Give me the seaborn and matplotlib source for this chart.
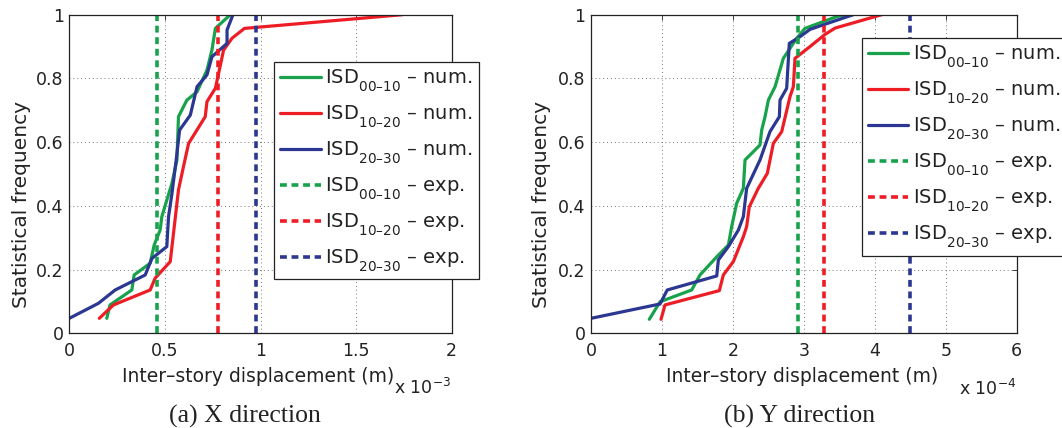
import numpy as np
import pandas as pd
import matplotlib
matplotlib.use("Agg")
import matplotlib.pyplot as plt
from matplotlib.lines import Line2D
import seaborn as sns

# deeper subscripts, as in the reference legend
try:
    import matplotlib._mathtext as _mt
    for _cls in (_mt.FontConstantsBase, _mt.DejaVuSansFontConstants):
        _cls.sub1 = 0.75
except Exception:
    pass

# ---------------- data ----------------
# Panel (a) X direction: displacement in units of 1e-3 m
x_a_00_10 = [0.196, 0.213, 0.327, 0.339, 0.423, 0.444, 0.475, 0.484, 0.510, 0.537,
             0.563, 0.571, 0.615, 0.668, 0.720, 0.746, 0.764, 0.842]
f_a_00_10 = [0.047, 0.089, 0.136, 0.183, 0.220, 0.277, 0.324, 0.366, 0.418, 0.471,
             0.544, 0.680, 0.732, 0.758, 0.826, 0.889, 0.957, 1.000]
x_a_10_20 = [0.157, 0.231, 0.423, 0.449, 0.528, 0.545, 0.571, 0.597, 0.624, 0.711,
             0.720, 0.764, 0.781, 0.807, 0.851, 0.916, 1.742]
f_a_10_20 = [0.047, 0.089, 0.136, 0.173, 0.225, 0.314, 0.450, 0.523, 0.596, 0.680,
             0.727, 0.769, 0.816, 0.889, 0.926, 0.957, 1.000]
x_a_20_30 = [0.000, 0.152, 0.240, 0.397, 0.432, 0.510, 0.519, 0.537, 0.559, 0.577,
             0.633, 0.668, 0.720, 0.746, 0.825, 0.825, 0.856]
f_a_20_30 = [0.047, 0.094, 0.136, 0.183, 0.235, 0.272, 0.366, 0.439, 0.544, 0.638,
             0.685, 0.774, 0.811, 0.868, 0.910, 0.952, 1.000]
exp_a = [0.461, 0.776, 0.978]

# Panel (b) Y direction: displacement in units of 1e-4 m
x_b_00_10 = [0.822, 0.973, 1.419, 1.536, 1.772, 1.936, 1.983, 2.053, 2.147, 2.171,
             2.382, 2.406, 2.453, 2.500, 2.594, 2.711, 2.899, 3.016, 3.463, 3.580]
f_b_00_10 = [0.044, 0.099, 0.136, 0.183, 0.240, 0.277, 0.335, 0.408, 0.455, 0.544,
             0.591, 0.638, 0.680, 0.732, 0.774, 0.863, 0.926, 0.957, 0.994, 1.000]
x_b_10_20 = [0.987, 1.043, 1.809, 1.865, 2.006, 2.147, 2.194, 2.231, 2.358, 2.485,
             2.570, 2.688, 2.805, 2.852, 2.875, 3.087, 3.298, 3.440, 4.097]
f_b_10_20 = [0.044, 0.089, 0.134, 0.183, 0.225, 0.303, 0.335, 0.397, 0.455, 0.502,
             0.596, 0.633, 0.743, 0.774, 0.863, 0.900, 0.938, 0.958, 1.000]
x_b_20_30 = [0.000, 0.973, 1.075, 1.772, 1.795, 1.936, 2.077, 2.147, 2.194, 2.382,
             2.523, 2.655, 2.664, 2.758, 2.795, 2.946, 3.087, 3.509, 3.697]
f_b_20_30 = [0.047, 0.092, 0.136, 0.180, 0.230, 0.272, 0.324, 0.366, 0.455, 0.544,
             0.633, 0.680, 0.732, 0.769, 0.910, 0.931, 0.954, 0.986, 1.000]
exp_b = [2.917, 3.284, 4.490]

series = ["00–10", "10–20", "20–30"]
colors = ["#17a24b", "#ee1d25", "#2c3792"]

xticks_a = [0, 0.5, 1, 1.5, 2]
xticklabels_a = ["0", "0.5", "1", "1.5", "2"]
xticks_b = [0, 1, 2, 3, 4, 5, 6]
xticklabels_b = ["0", "1", "2", "3", "4", "5", "6"]
yticks = [0, 0.2, 0.4, 0.6, 0.8, 1.0]
yticklabels = ["0", "0.2", "0.4", "0.6", "0.8", "1"]

# ---------------- style ----------------
sns.set_style("white")
plt.rcParams["font.family"] = ["DejaVu Sans"]
plt.rcParams["mathtext.fontset"] = "dejavusans"

W, H = 1062, 428
fig = plt.figure(figsize=(W / 100, H / 100), dpi=100)

def px_axes(x0, y0, x1, y1):
    return fig.add_axes([x0 / W, 1 - y1 / H, (x1 - x0) / W, (y1 - y0) / H])

ax_a = px_axes(69.3, 14.7, 451.7, 333.3)
ax_b = px_axes(591.0, 14.7, 1016.7, 333.3)

def make_df(xs, fs):
    rows = []
    for name, x, f in zip(series, xs, fs):
        for xi, fi in zip(x, f):
            rows.append((name, xi, fi))
    return pd.DataFrame(rows, columns=["series", "disp", "freq"])

df_a = make_df([x_a_00_10, x_a_10_20, x_a_20_30], [f_a_00_10, f_a_10_20, f_a_20_30])
df_b = make_df([x_b_00_10, x_b_10_20, x_b_20_30], [f_b_00_10, f_b_10_20, f_b_20_30])

LW = 2.3
DASH = (1.9, 1.3)
LW_D = 2.6

def draw(ax, df, exps, xticks, xticklabels, xlim, xlab_x, offset_txt, offset_xy,
         leg_anchor):
    sns.lineplot(data=df, x="disp", y="freq", hue="series", palette=colors,
                 hue_order=series, sort=False, estimator=None, lw=LW,
                 legend=False, ax=ax)
    for v, c in zip(exps, colors):
        ax.axvline(v, color=c, lw=LW_D, dashes=DASH)
    ax.set_xlim(*xlim)
    ax.set_ylim(0, 1)
    ax.set_xticks(xticks)
    ax.set_xticklabels(xticklabels)
    ax.set_yticks(yticks)
    ax.set_yticklabels(yticklabels)
    ax.tick_params(direction="in", length=3.5, width=0.6, top=True, right=True,
                   labelsize=12.5, colors="#222222")
    ax.tick_params(axis="x", pad=6)
    ax.tick_params(axis="y", pad=4)
    ax.grid(True, ls=(0, (1, 3)), color="#777777", lw=0.7)
    for s in ax.spines.values():
        s.set_color("#222222")
        s.set_linewidth(0.9)
        s.set_visible(True)
    ax.set_xlabel("Inter–story displacement (m)", fontsize=13.5, color="#222222")
    ax.xaxis.set_label_coords(xlab_x, -0.136)
    ax.xaxis.label.set_va("center")
    ax.set_ylabel("Statistical frequency", fontsize=14.5, color="#222222")
    ax.yaxis.label.set_va("center")

    handles, labels = [], []
    for s, c in zip(series, colors):
        handles.append(Line2D([], [], color=c, lw=LW))
        labels.append(r"ISD$_{\mathregular{" + s + r"}}$ – num.")
    for s, c in zip(series, colors):
        handles.append(Line2D([], [], color=c, lw=LW_D, dashes=DASH))
        labels.append(r"ISD$_{\mathregular{" + s + r"}}$ – exp.")
    leg = ax.legend(handles, labels, loc="upper left", bbox_to_anchor=leg_anchor,
                    borderaxespad=0, fontsize=14, frameon=True, fancybox=False,
                    framealpha=1, edgecolor="#222222", handlelength=2.1,
                    handletextpad=0.25, borderpad=0.3, labelspacing=0.5)
    leg.get_frame().set_linewidth(0.9)
    for t in leg.get_texts():
        t.set_color("#222222")
    fig.text(offset_xy[0] / W, 1 - offset_xy[1] / H, offset_txt, ha="right",
             va="baseline", fontsize=12.5, color="#222222")

draw(ax_a, df_a, exp_a, xticks_a, xticklabels_a, (0, 2), 0.493,
     r"x 10$^{-3}$", (451, 394), (0.535, 0.8525))
draw(ax_b, df_b, exp_b, xticks_b, xticklabels_b, (0, 6), 0.4966,
     r"x 10$^{-4}$", (1016, 395), (0.636, 0.926))

ax_a.yaxis.set_label_coords(-0.124, 0.403)
ax_b.yaxis.set_label_coords(-0.117, 0.403)

cap_font = dict(family=["Liberation Serif", "DejaVu Serif"], size=18.5,
                color="#222222", ha="center", va="center")
fig.text(244.5 / W, 1 - 416 / H, "(a) X direction", **cap_font)
fig.text(800 / W, 1 - 416 / H, "(b) Y direction", **cap_font)

fig.savefig("out.png", dpi=100, facecolor="white")
